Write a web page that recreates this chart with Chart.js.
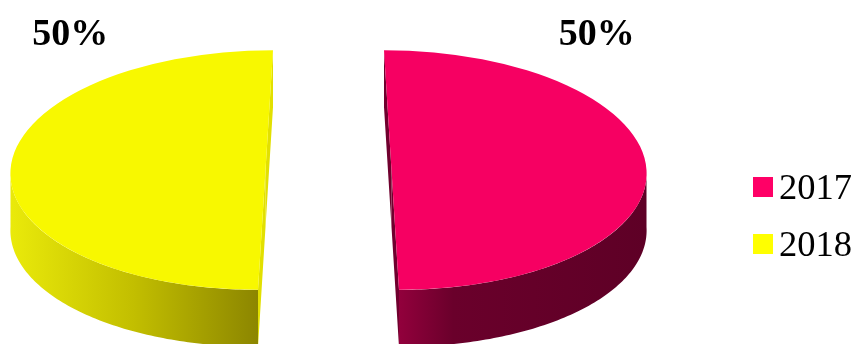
<!DOCTYPE html>
<html>
<head>
<meta charset="utf-8">
<title>2017 / 2018</title>
<script src="https://cdn.jsdelivr.net/npm/chart.js@4.4.1/dist/chart.umd.min.js"></script>
<style>
  html, body { margin: 0; padding: 0; background: #ffffff; overflow: hidden; }
  #wrap { width: 859px; height: 344px; position: relative; }
</style>
</head>
<body>
<div id="wrap"><canvas id="chart"></canvas></div>
<script>
// Series
const years = ['2017', '2018'];
const shares = [50, 50];

// Colours: top faces, legend swatches, side walls (left to right), cut faces
const faceColors = ['#f60062', '#f8f800'];
const keyColors = ['#ff0066', '#ffff00'];
const wallStops = [
  [[0, 'rgb(146,0,60)'], [0.22, 'rgb(106,0,43)'], [1, 'rgb(94,0,38)']],
  [[0, 'rgb(234,234,10)'], [0.5, 'rgb(194,190,0)'], [1, 'rgb(140,134,0)']]
];
const cutColors = ['rgb(112,0,46)', 'rgb(226,224,0)'];

// Projection of the flat pie into a tilted, exploded, extruded disc
const VIEW = { cx: 328.5, cy: 170, tilt: 0.47, depth: 57, explode: 63, shear: 0.0625 };
const LABEL = { angle: 0.62, reach: 1.41, nudgeX: 5, font: 38 };
const LEGEND = { x: 753, top: 177, step: 57, box: 20, font: 36.5 };
const SERIF = '"Liberation Serif", "Times New Roman", serif';

const pie3d = {
  id: 'pie3d',
  beforeDatasetDraw() { return false; },   // faces are drawn below, through the projection
  afterDatasetsDraw(chart) {
    const ctx = chart.ctx;
    const meta = chart.getDatasetMeta(0);
    const total = shares.reduce((a, b) => a + b, 0);
    const k = VIEW.tilt, d = VIEW.depth;

    meta.data.forEach((arc, i) => {
      const p = arc.getProps(['x', 'y', 'startAngle', 'endAngle', 'outerRadius'], true);
      const R = p.outerRadius;
      const mid = (p.startAngle + p.endAngle) / 2;
      const side = Math.cos(mid) >= 0 ? 1 : -1;
      const sx = VIEW.cx + side * VIEW.explode;
      const sh = side * VIEW.shear;
      const map = (a, r) => {
        const dx = r * Math.cos(a), dy = r * Math.sin(a);
        return [sx + dx + sh * k * dy, VIEW.cy + k * dy];
      };

      ctx.save();
      // radial cut faces
      ctx.fillStyle = cutColors[i];
      [p.startAngle, p.endAngle].forEach(a => {
        const c0 = map(0, 0), e = map(a, R);
        ctx.beginPath();
        ctx.moveTo(c0[0], c0[1]);
        ctx.lineTo(e[0], e[1]);
        ctx.lineTo(e[0], e[1] + d);
        ctx.lineTo(c0[0], c0[1] + d);
        ctx.closePath();
        ctx.fill();
      });

      // outer wall on the front half of the disc
      for (const off of [-2 * Math.PI, 0, 2 * Math.PI]) {
        const a0 = Math.max(p.startAngle, off), a1 = Math.min(p.endAngle, off + Math.PI);
        if (a1 <= a0) continue;
        const steps = 90;
        const pts = [];
        for (let s = 0; s <= steps; s++) pts.push(map(a0 + (a1 - a0) * s / steps, R));
        const xs = pts.map(q => q[0]);
        const g = ctx.createLinearGradient(Math.min(...xs), 0, Math.max(...xs), 0);
        wallStops[i].forEach(([o, c]) => g.addColorStop(o, c));
        ctx.beginPath();
        pts.forEach((q, j) => j ? ctx.lineTo(q[0], q[1]) : ctx.moveTo(q[0], q[1]));
        for (let j = pts.length - 1; j >= 0; j--) ctx.lineTo(pts[j][0], pts[j][1] + d);
        ctx.closePath();
        ctx.fillStyle = g;
        ctx.fill();
      }
      ctx.restore();

      // top face, drawn by the arc element itself
      ctx.save();
      ctx.transform(1, 0, sh * k, k, sx - p.x - sh * k * p.y, VIEW.cy - k * p.y);
      arc.draw(ctx);
      ctx.restore();

      // percentage label above the slice
      const la = side > 0 ? p.startAngle + LABEL.angle : p.endAngle - LABEL.angle;
      const lp = map(la, LABEL.reach * R);
      ctx.save();
      ctx.font = 'bold ' + LABEL.font + 'px ' + SERIF;
      ctx.fillStyle = '#000000';
      ctx.textAlign = 'center';
      ctx.textBaseline = 'alphabetic';
      ctx.fillText(Math.round(shares[i] / total * 100) + '%', lp[0] + LABEL.nudgeX, lp[1] + 0.338 * LABEL.font);
      ctx.restore();
    });
  },
  afterDraw(chart) {
    const ctx = chart.ctx;
    ctx.save();
    ctx.font = LEGEND.font + 'px ' + SERIF;
    ctx.textAlign = 'left';
    ctx.textBaseline = 'alphabetic';
    chart.data.labels.forEach((t, i) => {
      const y0 = LEGEND.top + i * LEGEND.step;
      ctx.fillStyle = keyColors[i];
      ctx.fillRect(LEGEND.x, y0, LEGEND.box, LEGEND.box);
      ctx.fillStyle = '#000000';
      ctx.fillText(t, LEGEND.x + 26, y0 + 21.5);
    });
    ctx.restore();
  }
};

new Chart(document.getElementById('chart'), {
  type: 'pie',
  data: {
    labels: years,
    datasets: [{
      data: shares,
      backgroundColor: faceColors,
      borderWidth: 0
    }]
  },
  options: {
    responsive: true,
    maintainAspectRatio: false,
    animation: false,
    radius: 255,
    events: [],
    layout: { padding: 0 },
    plugins: {
      legend: { display: false },
      tooltip: { enabled: false }
    }
  },
  plugins: [pie3d]
});
</script>
</body>
</html>
